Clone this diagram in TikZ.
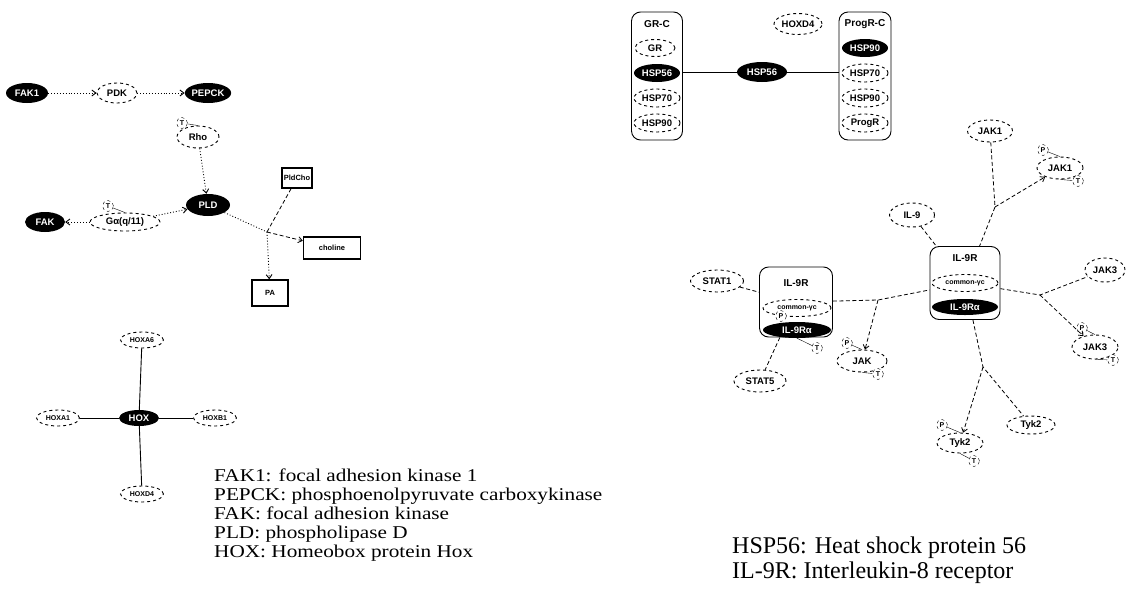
\documentclass[tikz,border=0pt]{standalone}
\usepackage{fontspec}
\setsansfont{Liberation Sans}
\newfontfamily\legfont[FakeStretch=1.18]{Liberation Serif}
\newfontfamily\legfontb{Liberation Serif}
\usepackage{tikz}
\usetikzlibrary{arrows.meta,positioning,shapes.geometric,calc}

\tikzset{
  prot/.style={ellipse, inner sep=0pt, minimum width=44, minimum height=20,
    font=\sffamily\bfseries\fontsize{9.5}{9.5}\selectfont},
  hub/.style={prot, fill=black, text=white},
  mol/.style={prot, draw, dashed, line width=0.9pt},
  ptag/.style={circle, draw, dashed, fill=white, inner sep=0.5pt, minimum size=11,
    font=\sffamily\bfseries\fontsize{7}{7}\selectfont},
  chem/.style={rectangle, draw, line width=1.4pt, inner sep=2pt, minimum height=20,
    font=\sffamily\bfseries\fontsize{7.5}{7.5}\selectfont},
  cplx/.style={rectangle, rounded corners=9pt, draw, line width=0.9pt},
  ttl/.style={font=\sffamily\bfseries\fontsize{10}{10}\selectfont},
  dotl/.style={dotted, line width=0.9pt},
  dashl/.style={dash pattern=on 4pt off 2.5pt, line width=0.8pt},
  arr/.style={-{Straight Barb[length=4pt,width=6pt]}},
}

\begin{document}
\begin{tikzpicture}[x=1pt,y=-1pt]
  \useasboundingbox (0,0) rectangle (1126,592);

  % Chain FAK1 -> PDK -> PEPCK
  \node[hub, minimum width=42] (fak1) at (27,93) {FAK1};
  \node[mol, minimum width=40] (pdk) at (117,93) {PDK};
  \node[hub] (pepck) at (208,93) {PEPCK};
  \draw[dotl,arr] (fak1) -- (pdk);
  \draw[dotl,arr] (pdk) -- (pepck);

  % PLD and its inputs
  \node[mol, minimum width=42, minimum height=22] (rho) at (198,137) {Rho};
  \node[ptag] (rhot) at (182,123) {T};
  \draw (rhot) -- (rho.north);
  \node[hub, minimum height=22] (pld) at (208,205) {PLD};
  \node[mol, minimum width=70, minimum height=18] (gaq) at (125,222) {Gα(q/11)};
  \node[ptag] (gaqt) at (108,206) {T};
  \draw (gaqt) -- (gaq.north);
  \node[hub, minimum width=40] (fak) at (45,222) {FAK};
  \draw[dotl,arr] (rho) -- (pld);
  \draw[dotl,arr] (gaq) -- (pld);
  \draw[dotl,arr] (gaq) -- (fak);

  % PldCho -> choline + PA
  \node[chem] (pldcho) at (297,178) {PldCho};
  \node[chem, minimum width=57, minimum height=22] (choline) at (332,248) {choline};
  \node[chem, minimum width=36, minimum height=26] (pa) at (270,293) {PA};
  \coordinate (rx) at (267,232);
  \draw[dotl] (pld) -- (rx);
  \draw[dashl] (pldcho) -- (rx);
  \draw[dashl,arr] (rx) -- (choline);
  \draw[dotl,arr] (rx) -- (pa);

  % HOX cluster
  \node[hub, minimum width=40, minimum height=16] (hox) at (139,418) {HOX};
  \foreach \nm/\lab/\px/\py in {hoxa6/HOXA6/142/340, hoxa1/HOXA1/58/418,
      hoxb1/HOXB1/215/418, hoxd4/HOXD4/142/494}{
    \node[mol, minimum width=43, minimum height=16,
      font=\sffamily\bfseries\fontsize{7}{7}\selectfont] (\nm) at (\px,\py) {\lab};
    \draw[line width=0.9pt] (hox) -- (\nm);
  }

  % Legend (left)
  \node[anchor=north west, inner sep=0pt, align=left,
    font=\legfont\fontsize{18}{19}\selectfont] (legl) at (214,469)
    {FAK1: focal adhesion kinase 1\\
     PEPCK: phosphoenolpyruvate carboxykinase\\
     FAK: focal adhesion kinase\\
     PLD: phospholipase D\\
     HOX: Homeobox protein Hox};

  % HSP56 complexes
  \node[cplx, minimum width=51, minimum height=128] (grc) at (657,76) {};
  \node[ttl] (grct) at (657,24) {GR-C};
  \node[mol, minimum width=40, minimum height=17] (gr) at (655,48) {GR};
  \node[hub, minimum width=46, minimum height=18] (hsp56a) at (657,73) {HSP56};
  \node[mol, minimum width=46, minimum height=18] (hsp70a) at (657,98) {HSP70};
  \node[mol, minimum width=46, minimum height=18] (hsp90a) at (657,123) {HSP90};

  \node[cplx, minimum width=52, minimum height=128] (prgc) at (865,76) {};
  \node[ttl] (prgct) at (865,24) {ProgR-C};
  \node[hub, minimum width=46, minimum height=18] (hsp90b) at (865,48) {HSP90};
  \node[mol, minimum width=46, minimum height=18] (hsp70b) at (865,73) {HSP70};
  \node[mol, minimum width=46, minimum height=18] (hsp90c) at (865,98) {HSP90};
  \node[mol, minimum width=46, minimum height=18] (progr) at (865,123) {ProgR};

  \node[hub, minimum width=50] (hsp56) at (762,72) {HSP56};
  \node[mol, minimum width=48, minimum height=21] (hoxd4r) at (798,24) {HOXD4};
  \draw[line width=1pt] (grc.east |- hsp56) -- (hsp56) -- (prgc.west |- hsp56);

  % IL-9 receptor, left
  \node[cplx, minimum width=73, minimum height=70] (ilrl) at (796,302) {};
  \node[ttl] (ilrlt) at (796,283) {IL-9R};
  \node[mol, minimum width=68, minimum height=17,
    font=\sffamily\bfseries\fontsize{7}{7}\selectfont] (gcl) at (797,308) {common-γc};
  \node[hub, minimum width=68, minimum height=16] (ilal) at (797,330) {IL-9Rα};
  \node[ptag] (ilalp) at (781,316) {P};
  \node[ptag] (ilalt) at (817,348) {T};
  \draw (ilalt) -- (ilal.south);
  \node[mol, minimum width=53, minimum height=22] (stat1) at (717,281) {STAT1};
  \node[mol, minimum width=52, minimum height=22] (stat5) at (760,381) {STAT5};
  \draw[dashl] (stat1) -- (ilrl);
  \draw[dashl] (ilrl) -- (stat5);

  % IL-9 receptor, right
  \node[cplx, minimum width=70, minimum height=73] (ilrr) at (965,283) {};
  \node[ttl] (ilrrt) at (965,258) {IL-9R};
  \node[mol, minimum width=66, minimum height=17,
    font=\sffamily\bfseries\fontsize{7}{7}\selectfont] (gcr) at (965,283) {common-γc};
  \node[hub, minimum width=66, minimum height=16] (ilar) at (965,307) {IL-9Rα};
  \node[mol, minimum width=45, minimum height=24] (il9) at (912,215) {IL-9};
  \draw[dashl] (il9) -- (ilrr);

  % kinases
  \node[mol, minimum width=50, minimum height=22] (jakp) at (862,361) {JAK};
  \node[ptag] (jakpp) at (847,343) {P};
  \node[ptag] (jakpt) at (878,374) {T};
  \node[mol, minimum width=45, minimum height=22] (jak1) at (990,131) {JAK1};
  \node[mol, minimum width=46, minimum height=22] (jak1p) at (1060,168) {JAK1};
  \node[ptag] (jak1pp) at (1043,150) {P};
  \node[ptag] (jak1pt) at (1078,181) {T};
  \node[mol, minimum width=40, minimum height=24] (jak3) at (1105,270) {JAK3};
  \node[mol, minimum width=46, minimum height=24] (jak3p) at (1095,347) {JAK3};
  \node[ptag] (jak3pp) at (1082,328) {P};
  \node[ptag] (jak3pt) at (1113,360) {T};
  \node[mol, minimum width=48, minimum height=18] (tyk2) at (1031,425) {Tyk2};
  \node[mol, minimum width=46, minimum height=20] (tyk2p) at (960,443) {Tyk2};
  \node[ptag] (tyk2pp) at (942,425) {P};
  \node[ptag] (tyk2pt) at (974,461) {T};
  \foreach \k in {jakp,jak1p,jak3p,tyk2p}{
    \draw (\k p) -- (\k.north);
    \draw (\k.south) -- (\k t);
  }

  % connectors to the receptor
  \coordinate (jl) at (878,300);
  \coordinate (jt) at (995,207);
  \coordinate (jr) at (1040,295);
  \coordinate (jb) at (983,367);
  \draw[dashl] (ilrl) -- (jl) -- (ilrr);
  \draw[dashl,arr] (jl) -- (jakp);
  \draw[dashl] (jak1) -- (jt) -- (ilrr);
  \draw[dashl,arr] (jt) -- (jak1p);
  \draw[dashl] (ilrr) -- (jr) -- (jak3);
  \draw[dashl,arr] (jr) -- (jak3p);
  \draw[dashl] (ilrr) -- (jb) -- (tyk2);
  \draw[dashl,arr] (jb) -- (tyk2p);

  % Legend (right)
  \node[anchor=north west, inner sep=0pt, align=left,
    font=\legfontb\fontsize{24}{25}\selectfont] (legr) at (732,537)
    {HSP56: Heat shock protein 56\\
     IL-9R: Interleukin-8 receptor};
\end{tikzpicture}
\end{document}
